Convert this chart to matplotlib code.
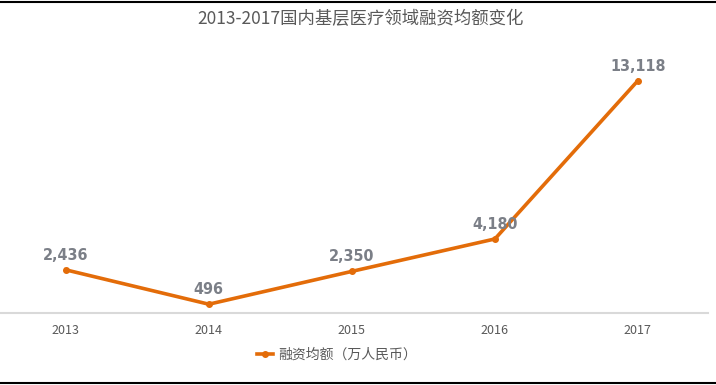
import matplotlib
matplotlib.use("Agg")
import matplotlib.pyplot as plt
from matplotlib.lines import Line2D

plt.rcParams['font.family'] = ['Noto Sans CJK SC', 'DejaVu Sans']

years = ["2013", "2014", "2015", "2016", "2017"]
amounts = [2436, 496, 2350, 4180, 13118]
labels = ["2,436", "496", "2,350", "4,180", "13,118"]
title = "2013-2017国内基层医疗领域融资均额变化"
legend_label = "融资均额（万人民币）"

W, H = 716, 385
fig = plt.figure(figsize=(W / 100, H / 100), dpi=100)
ax = fig.add_axes([0 / W, 1 - 313 / H, 708 / W, (313 - 65) / H])

color = "#E36C09"
x = list(range(len(years)))
ax.plot(x, amounts, color=color, lw=2.6, marker="o", ms=4, solid_joinstyle="miter",
        label=legend_label, zorder=3)

for xi, v, t in zip(x, amounts, labels):
    ax.annotate(t, (xi, v), xytext=(0, 5), textcoords="offset points",
                ha="center", va="bottom", fontsize=11.5, fontweight="bold",
                fontstretch="condensed",
                color="#7b7f87", family=["DejaVu Sans"])

ax.set_xlim(-0.46, 4.49)
ax.set_ylim(0, 14000)
ax.set_xticks(x)
ax.set_xticklabels(years, color="#595959", fontsize=9)
ax.set_yticks([])
for s in ["top", "right", "left"]:
    ax.spines[s].set_visible(False)
ax.spines["bottom"].set_color("#d9d9d9")
ax.spines["bottom"].set_linewidth(1.5)
ax.tick_params(axis="x", length=0, pad=8)
ax.patch.set_alpha(0)

fig.text(360 / W, 1 - 19 / H, title, ha="center", va="center", fontsize=12.5, color="#595959")

leg = fig.legend(handles=[Line2D([0], [0], color=color, lw=2.6, marker="o", ms=4)],
                 labels=[legend_label], loc="center", bbox_to_anchor=(337 / W, 1 - 355 / H),
                 frameon=False, fontsize=10, handlelength=1.2, handletextpad=0.4)
for t in leg.get_texts():
    t.set_color("#595959")

# frame lines at top and bottom
fig.add_artist(Line2D([0, 1], [1 - 2 / H, 1 - 2 / H], color="black", lw=1.5, transform=fig.transFigure))
fig.add_artist(Line2D([0, 1], [1 - 383 / H, 1 - 383 / H], color="black", lw=1.5, transform=fig.transFigure))

fig.savefig("out.png", dpi=100)
